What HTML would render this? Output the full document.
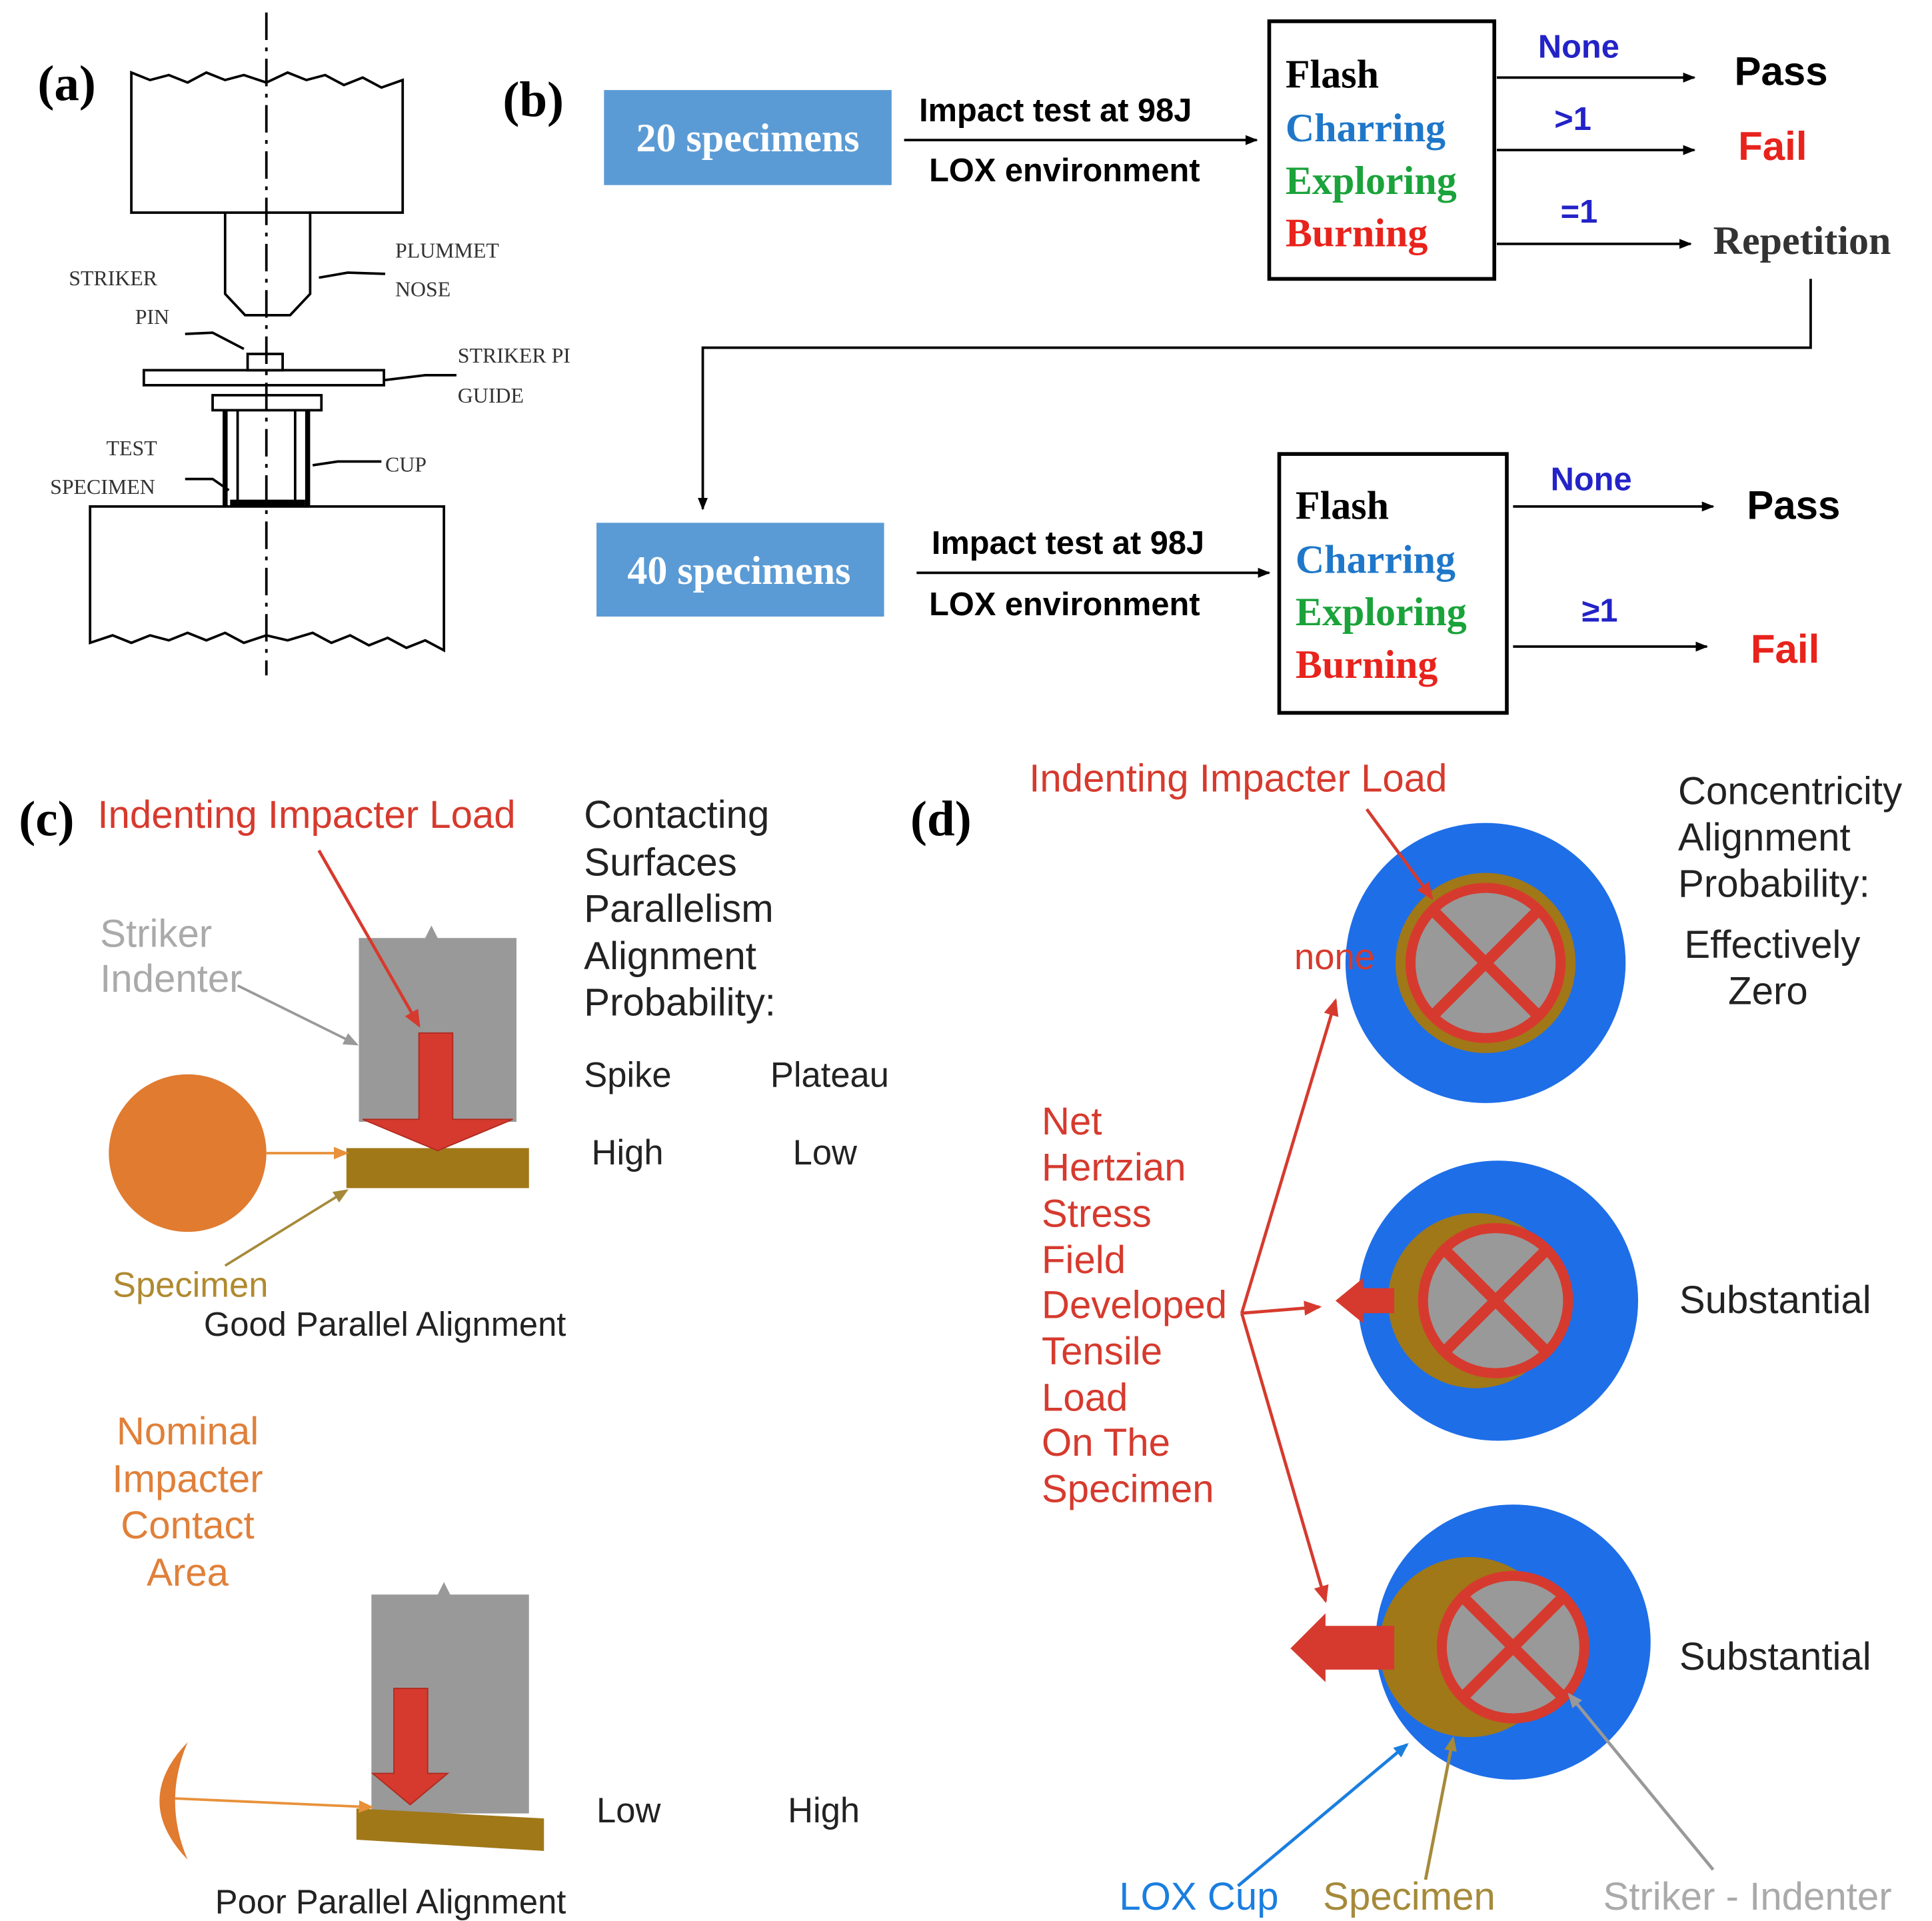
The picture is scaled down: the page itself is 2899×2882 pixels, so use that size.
<!DOCTYPE html>
<html><head><meta charset="utf-8"><style>
html,body{margin:0;padding:0;background:#fff}
svg{display:block}
.s{font-family:"Liberation Serif",serif}
.a{font-family:"Liberation Sans",sans-serif}
</style></head><body>
<svg width="2899" height="2882" viewBox="0 0 1545 1536" xmlns="http://www.w3.org/2000/svg">
<defs>
<marker id="ab" markerWidth="10" markerHeight="10" refX="9" refY="5" orient="auto" markerUnits="userSpaceOnUse"><path d="M0,1 L10,5 L0,9 z" fill="#000"/></marker>
<marker id="ar" markerWidth="14" markerHeight="14" refX="12" refY="7" orient="auto" markerUnits="userSpaceOnUse"><path d="M0,1 L14,7 L0,13 z" fill="#d63a2e"/></marker>
<marker id="ao" markerWidth="12" markerHeight="12" refX="10" refY="6" orient="auto" markerUnits="userSpaceOnUse"><path d="M0,1 L12,6 L0,11 z" fill="#e8913a"/></marker>
<marker id="ag" markerWidth="12" markerHeight="12" refX="10" refY="6" orient="auto" markerUnits="userSpaceOnUse"><path d="M0,1 L12,6 L0,11 z" fill="#999"/></marker>
<marker id="at" markerWidth="12" markerHeight="12" refX="10" refY="6" orient="auto" markerUnits="userSpaceOnUse"><path d="M0,1 L12,6 L0,11 z" fill="#a58a3a"/></marker>
<marker id="abl" markerWidth="12" markerHeight="12" refX="10" refY="6" orient="auto" markerUnits="userSpaceOnUse"><path d="M0,1 L12,6 L0,11 z" fill="#1a7ee0"/></marker>
</defs>
<rect width="1545" height="1536" fill="#fff"/>

<!-- (a) -->
<g stroke="#000" stroke-width="2" fill="none">
<path d="M105,170 L105,58 L120,64 L135,60 L150,66 L165,58 L180,64 L195,60 L213,66 L230,58 L245,64 L260,60 L275,68 L290,62 L305,70 L322,64 L322,170 Z" fill="#fff"/>
<path d="M180,170 L180,235 L196,252 L232,252 L248,235 L248,170"/>
<rect x="198" y="283" width="28" height="13"/>
<rect x="115" y="296" width="192" height="12"/>
<rect x="170" y="316" width="87" height="12"/>
<path d="M180,328 L180,405 M246,328 L246,405" stroke-width="4"/>
<path d="M190,328 L190,400 M236,328 L236,400"/>
<path d="M72,405 L355,405 L355,520 L340,512 L325,518 L310,510 L295,516 L280,508 L265,514 L250,506 L230,512 L213,508 L195,514 L180,506 L165,512 L150,506 L135,512 L120,508 L105,514 L90,508 L72,514 Z" fill="#fff"/>
<path d="M184,402 L244,402" stroke-width="5"/>
<path d="M255,222 L278,218 L308,219 M148,267 L170,266 L195,279 M307,304 L340,300 L365,300 M250,372 L270,369 L305,369 M148,383 L170,383 L183,392"/>
<path d="M213,10 L213,540" stroke-dasharray="22,6,3,6"/>
</g>
<text class="s" x="30" y="80" font-size="40" font-weight="bold">(a)</text>
<g class="s" font-size="17" fill="#333">
<text x="316" y="206">PLUMMET</text><text x="316" y="237">NOSE</text>
<text x="55" y="228">STRIKER</text><text x="108" y="259">PIN</text>
<text x="366" y="290">STRIKER PI</text><text x="366" y="322">GUIDE</text>
<text x="85" y="364">TEST</text><text x="40" y="395">SPECIMEN</text>
<text x="308" y="377">CUP</text>
</g>

<!-- (b) -->
<text class="s" x="402" y="93" font-size="40" font-weight="bold">(b)</text>
<rect x="483" y="72" width="230" height="76" fill="#5b9bd5"/>
<text class="s" x="598" y="121" font-size="32" font-weight="bold" fill="#fff" text-anchor="middle">20 specimens</text>
<text class="a" x="735" y="97" font-size="26" font-weight="bold">Impact test at 98J</text>
<text class="a" x="743" y="145" font-size="26" font-weight="bold">LOX environment</text>
<line x1="723" y1="112" x2="1005" y2="112" stroke="#000" stroke-width="2" marker-end="url(#ab)"/>
<rect x="1015" y="17" width="180" height="206" fill="none" stroke="#000" stroke-width="3"/>
<g class="s" font-size="32" font-weight="bold">
<text x="1028" y="70">Flash</text><text x="1028" y="113" fill="#1f77c9">Charring</text>
<text x="1028" y="155" fill="#1aa33a">Exploring</text><text x="1028" y="197" fill="#e8231c">Burning</text>
</g>
<g stroke="#000" stroke-width="2" marker-end="url(#ab)">
<line x1="1197" y1="62" x2="1355" y2="62"/><line x1="1197" y1="120" x2="1355" y2="120"/><line x1="1197" y1="195" x2="1352" y2="195"/>
<line x1="1210" y1="405" x2="1370" y2="405"/><line x1="1210" y1="517" x2="1365" y2="517"/>
<line x1="733" y1="458" x2="1015" y2="458"/>
</g>
<g class="a" font-size="26" font-weight="bold" fill="#2323c8">
<text x="1230" y="46">None</text><text x="1243" y="104">&gt;1</text><text x="1248" y="178">=1</text>
<text x="1240" y="392">None</text><text x="1265" y="497">≥1</text>
</g>
<g class="a" font-size="32" font-weight="bold">
<text x="1387" y="68">Pass</text><text x="1390" y="128" fill="#e8231c">Fail</text>
<text x="1397" y="415">Pass</text><text x="1400" y="530" fill="#e8231c">Fail</text>
</g>
<text class="s" x="1370" y="203" font-size="32" font-weight="bold" fill="#333">Repetition</text>
<path d="M1448,223 L1448,278 L562,278 L562,407" fill="none" stroke="#000" stroke-width="2" marker-end="url(#ab)"/>
<rect x="477" y="418" width="230" height="75" fill="#5b9bd5"/>
<text class="s" x="591" y="467" font-size="32" font-weight="bold" fill="#fff" text-anchor="middle">40 specimens</text>
<text class="a" x="745" y="443" font-size="26" font-weight="bold">Impact test at 98J</text>
<text class="a" x="743" y="492" font-size="26" font-weight="bold">LOX environment</text>
<rect x="1023" y="363" width="182" height="207" fill="none" stroke="#000" stroke-width="3"/>
<g class="s" font-size="32" font-weight="bold">
<text x="1036" y="415">Flash</text><text x="1036" y="458" fill="#1f77c9">Charring</text>
<text x="1036" y="500" fill="#1aa33a">Exploring</text><text x="1036" y="542" fill="#e8231c">Burning</text>
</g>

<!-- (c) -->
<text class="s" x="15" y="668" font-size="40" font-weight="bold">(c)</text>
<g class="a" font-size="31">
<text x="78" y="662" fill="#d63a2e">Indenting Impacter Load</text>
<g fill="#222"><text x="467" y="662">Contacting</text><text x="467" y="700">Surfaces</text><text x="467" y="737">Parallelism</text><text x="467" y="775">Alignment</text><text x="467" y="812">Probability:</text>
<text x="467" y="869" font-size="28">Spike</text><text x="616" y="869" font-size="28">Plateau</text>
<text x="473" y="931" font-size="28">High</text><text x="634" y="931" font-size="28">Low</text>
<text x="477" y="1457" font-size="28">Low</text><text x="630" y="1457" font-size="28">High</text>
<text x="163" y="1068" font-size="27">Good Parallel Alignment</text>
<text x="172" y="1530" font-size="27">Poor Parallel Alignment</text></g>
<text x="80" y="757" fill="#aaa">Striker</text><text x="80" y="793" fill="#aaa">Indenter</text>
<text x="90" y="1037" fill="#b08a30" font-size="28">Specimen</text>
<g fill="#e0803a" text-anchor="middle"><text x="150" y="1155">Nominal</text><text x="150" y="1193">Impacter</text><text x="150" y="1230">Contact</text><text x="150" y="1268">Area</text></g>
</g>
<path d="M287,750 L340,750 L345,740 L350,750 L413,750 L413,897 L287,897 Z" fill="#999"/>
<rect x="277" y="918" width="146" height="32" fill="#a07818"/>
<path d="M335,826 L362,826 L362,895 L410,895 L350,920 L290,895 L335,895 Z" fill="#d63a2e" stroke="#b02a20"/>
<circle cx="150" cy="922" r="63" fill="#e07b30"/>
<line x1="213" y1="922" x2="277" y2="922" stroke="#e8913a" stroke-width="2" marker-end="url(#ao)"/>
<line x1="255" y1="680" x2="335" y2="820" stroke="#d63a2e" stroke-width="2.5" marker-end="url(#ar)"/>
<line x1="190" y1="788" x2="285" y2="835" stroke="#999" stroke-width="2" marker-end="url(#ag)"/>
<line x1="180" y1="1012" x2="277" y2="952" stroke="#a58a3a" stroke-width="2" marker-end="url(#at)"/>
<path d="M297,1275 L350,1275 L355,1265 L360,1275 L423,1275 L423,1450 L297,1450 Z" fill="#999"/>
<path d="M285,1446 L435,1454 L435,1480 L285,1471 Z" fill="#a07818"/>
<path d="M315,1350 L342,1350 L342,1418 L358,1418 L328,1443 L298,1418 L315,1418 Z" fill="#d63a2e" stroke="#b02a20"/>
<path d="M150,1393 Q105,1440 150,1487 Q130,1440 150,1393 Z" fill="#e07b30"/>
<line x1="140" y1="1438" x2="297" y2="1445" stroke="#e8913a" stroke-width="2" marker-end="url(#ao)"/>

<!-- (d) -->
<text class="s" x="728" y="668" font-size="40" font-weight="bold">(d)</text>
<g class="a" font-size="31">
<text x="823" y="633" fill="#d63a2e">Indenting Impacter Load</text>
<g fill="#222"><text x="1342" y="643">Concentricity</text><text x="1342" y="680">Alignment</text><text x="1342" y="717">Probability:</text>
<text x="1347" y="766">Effectively</text><text x="1382" y="803">Zero</text>
<text x="1343" y="1050">Substantial</text><text x="1343" y="1335">Substantial</text></g>
<g fill="#d63a2e"><text x="833" y="907">Net</text><text x="833" y="944">Hertzian</text><text x="833" y="981">Stress</text><text x="833" y="1018">Field</text><text x="833" y="1054">Developed</text><text x="833" y="1091">Tensile</text><text x="833" y="1128">Load</text><text x="833" y="1164">On The</text><text x="833" y="1201">Specimen</text></g>
<text x="895" y="1527" fill="#1a7ee0">LOX  Cup</text>
<text x="1058" y="1527" fill="#a58a3a">Specimen</text>
<text x="1282" y="1527" fill="#aaa">Striker - Indenter</text>
</g>
<circle cx="1188" cy="770" r="112" fill="#1e6ee8"/>
<circle cx="1188" cy="770" r="72" fill="#a07818"/>
<circle cx="1188" cy="770" r="60" fill="#999" stroke="#d63a2e" stroke-width="8"/>
<path d="M1146,728 L1230,812 M1230,728 L1146,812" stroke="#d63a2e" stroke-width="9"/>
<text class="a" x="1035" y="775" font-size="29" fill="#d63a2e">none</text>
<circle cx="1198" cy="1040" r="112" fill="#1e6ee8"/>
<circle cx="1180" cy="1040" r="70" fill="#a07818"/>
<circle cx="1196" cy="1040" r="58" fill="#999" stroke="#d63a2e" stroke-width="8"/>
<path d="M1155,999 L1237,1081 M1237,999 L1155,1081" stroke="#d63a2e" stroke-width="9"/>
<path d="M1115,1030 L1090,1030 L1090,1022 L1068,1040 L1090,1058 L1090,1050 L1115,1050 Z" fill="#d63a2e"/>
<circle cx="1210" cy="1313" r="110" fill="#1e6ee8"/>
<circle cx="1175" cy="1317" r="72" fill="#a07818"/>
<circle cx="1210" cy="1317" r="57" fill="#999" stroke="#d63a2e" stroke-width="8"/>
<path d="M1170,1277 L1250,1357 M1250,1277 L1170,1357" stroke="#d63a2e" stroke-width="9"/>
<path d="M1115,1300 L1060,1300 L1060,1290 L1032,1318 L1060,1345 L1060,1335 L1115,1335 Z" fill="#d63a2e"/>
<g stroke="#d63a2e" stroke-width="2.5" marker-end="url(#ar)">
<line x1="993" y1="1050" x2="1068" y2="800"/><line x1="993" y1="1050" x2="1055" y2="1045"/><line x1="993" y1="1050" x2="1060" y2="1280"/>
<line x1="1093" y1="647" x2="1145" y2="718"/>
</g>
<line x1="990" y1="1508" x2="1125" y2="1395" stroke="#1a7ee0" stroke-width="2.5" marker-end="url(#abl)"/>
<line x1="1140" y1="1503" x2="1162" y2="1390" stroke="#a58a3a" stroke-width="2.5" marker-end="url(#at)"/>
<line x1="1370" y1="1495" x2="1255" y2="1355" stroke="#999" stroke-width="2.5" marker-end="url(#ag)"/>
</svg>
</body></html>
